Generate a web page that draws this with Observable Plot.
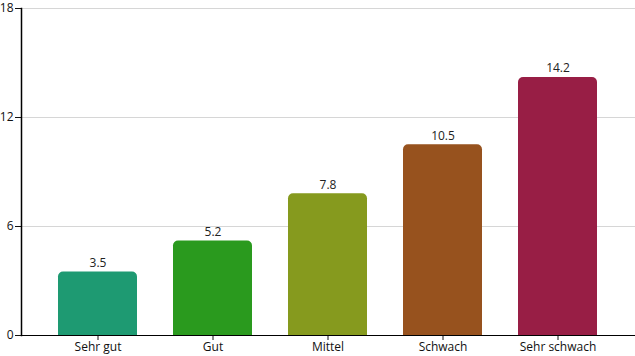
<!DOCTYPE html>
<html><head><meta charset="utf-8">
<script src="https://cdn.jsdelivr.net/npm/d3@7"></script>
<script src="https://cdn.jsdelivr.net/npm/@observablehq/plot@0.6"></script>
<style>body{margin:0;background:#fff;font-family:"Open Sans",sans-serif}</style>
</head><body><div id="chart"></div>
<script>
const categories = ["Sehr gut", "Gut", "Mittel", "Schwach", "Sehr schwach"];
const values = [3.5, 5.2, 7.8, 10.5, 14.2];
const colors = ["#1e9a72", "#2a9a1e", "#869a1e", "#97521e", "#981e45"];
const yTicks = [0, 6, 12, 18];
const data = categories.map((c, i) => ({cat: c, v: values[i]}));

const plot = Plot.plot({
  width: 635, height: 356,
  marginLeft: 21, marginRight: 0, marginTop: 8, marginBottom: 21,
  style: {fontFamily: "Open Sans", fontSize: "12px", color: "#111"},
  x: {domain: categories, padding: 0.31, label: null},
  y: {domain: [0, 18], ticks: yTicks, label: null},
  color: {domain: categories, range: colors},
  marks: [
    Plot.gridY(yTicks.filter(t => t > 0), {stroke: "#d6d6d6", strokeOpacity: 1}),
    Plot.barY(data, {x: "cat", y: "v", fill: "cat", ry1: 5}),
    Plot.text(data, {x: "cat", y: "v", text: d => d.v.toFixed(1), dy: -9, fill: "#222", fontSize: 12}),
    Plot.axisX({tickSize: 5, tickPadding: 2, fontSize: 12, fill: "#111"}),
    Plot.axisY({ticks: yTicks, tickSize: 6, tickPadding: 2, fontSize: 12, fill: "#111"}),
    Plot.ruleY([0], {stroke: "#000"}),
    Plot.frame({anchor: "left", stroke: "#000", strokeWidth: 1.5})
  ]
});
document.getElementById("chart").appendChild(plot);
</script></body></html>
